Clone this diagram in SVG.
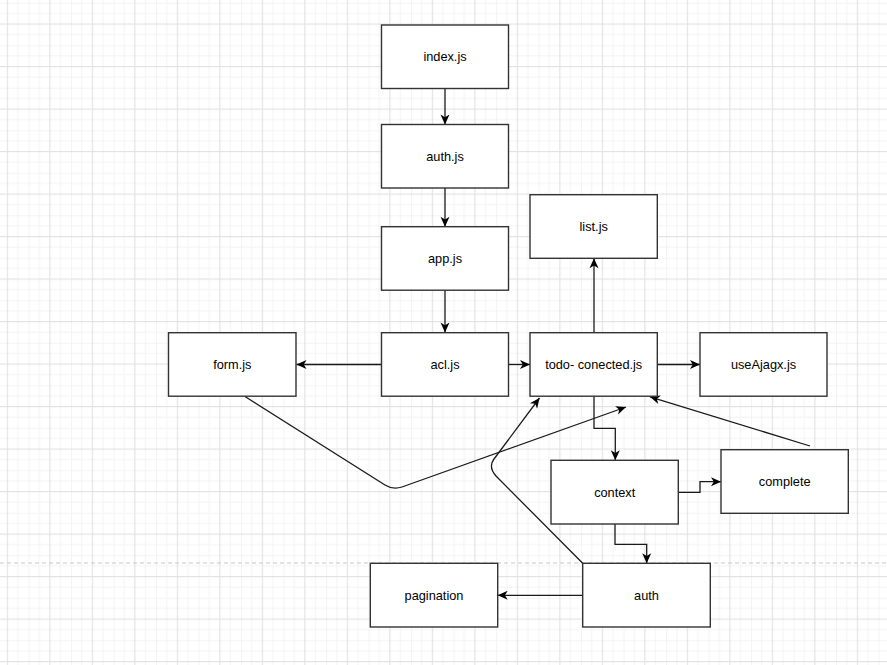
<svg xmlns="http://www.w3.org/2000/svg" width="887" height="665" viewBox="0 0 887 665">
<style>
.box{fill:#ffffff;stroke:#333333;stroke-width:1.4}
.lbl{font-family:"Liberation Sans",Arial,sans-serif;font-size:12.75px;fill:#000000;text-anchor:middle;dominant-baseline:central}
.edge{fill:none;stroke:#1a1a1a;stroke-width:1.3;marker-end:url(#arr)}
</style>
<defs>
<marker id="arr" markerUnits="userSpaceOnUse" markerWidth="12" markerHeight="10" refX="10" refY="4.5" orient="auto" overflow="visible">
<path d="M0,0 L10,4.5 L0,9 L2.8,4.5 Z" fill="#000000"/>
</marker>
<pattern id="grid" patternUnits="userSpaceOnUse" x="-13.95" y="2.75" width="42.5" height="42.5">
<rect x="0" y="0" width="42.5" height="42.5" fill="#ffffff"/>
<rect x="10.2" y="0" width="1" height="42.5" fill="#f4f4f4"/>
<rect x="31.4" y="0" width="1" height="42.5" fill="#f4f4f4"/>
<rect x="0" y="0" width="1" height="42.5" fill="#f4f4f4"/>
<rect x="0" y="10.2" width="42.5" height="1" fill="#f4f4f4"/>
<rect x="0" y="31.4" width="42.5" height="1" fill="#f4f4f4"/>
<rect x="0" y="0" width="42.5" height="1" fill="#f4f4f4"/>
<rect x="20.8" y="0" width="1.1" height="42.5" fill="#e2e2e2"/>
<rect x="0" y="20.8" width="42.5" height="1.1" fill="#e2e2e2"/>
</pattern>
</defs>
<rect x="0" y="0" width="887" height="665" fill="url(#grid)"/>
<line x1="0" y1="563" x2="887" y2="563" stroke="#c8c8c8" stroke-width="1.2" stroke-dasharray="4,3"/>

<g id="connectors">
<path class="edge" d="M445,88.5 L445,124.5"/>
<path class="edge" d="M445,188 L445,226.7"/>
<path class="edge" d="M445,290 L445,332.5"/>
<path class="edge" d="M381.5,364.5 L296.5,364.5"/>
<path class="edge" d="M508.5,364.5 L530,364.5"/>
<path class="edge" d="M657.5,364.5 L700,364.5"/>
<path class="edge" d="M594,332.5 L594,258.3"/>
<path class="edge" d="M594,396.5 L594,428.3 L615.3,428.3 L615.3,460.3"/>
<path class="edge" d="M678.3,492.3 L700,492.3 L700,481.7 L721,481.7"/>
<path class="edge" d="M810,446 L650,396.8"/>
<path class="edge" d="M245,396.5 L385,485 Q393,490 402,487 L626,407"/>
<path class="edge" d="M582.7,563.3 L496,476 Q488,467 494,459 L539.5,398"/>
<path class="edge" d="M615,524 L615,544.3 L646.7,544.3 L646.7,563.3"/>
<path class="edge" d="M582.7,595.3 L497.7,595.3"/>
</g>

<g id="index-js"><rect class="box" x="381.5" y="25" width="127" height="63.5"/><text class="lbl" x="445" y="56.8">index.js</text></g>
<g id="auth-js"><rect class="box" x="381.5" y="124.5" width="127" height="63.5"/><text class="lbl" x="445" y="156.3">auth.js</text></g>
<g id="app-js"><rect class="box" x="381.5" y="226.7" width="127" height="63.5"/><text class="lbl" x="445" y="258.5">app.js</text></g>
<g id="acl-js"><rect class="box" x="381.5" y="332.7" width="127" height="63.5"/><text class="lbl" x="445" y="364.5">acl.js</text></g>
<g id="form-js"><rect class="box" x="168.5" y="332.7" width="127.5" height="63.5"/><text class="lbl" x="232.3" y="364.5">form.js</text></g>
<g id="todo-conected-js"><rect class="box" x="530" y="332.7" width="127.3" height="63.5"/><text class="lbl" x="593.7" y="364.5">todo- conected.js</text></g>
<g id="useAjagx-js"><rect class="box" x="700" y="332.7" width="127" height="63.5"/><text class="lbl" x="763.5" y="364.5">useAjagx.js</text></g>
<g id="list-js"><rect class="box" x="530" y="194.7" width="127.3" height="63.6"/><text class="lbl" x="593.7" y="226.5">list.js</text></g>
<g id="context"><rect class="box" x="551" y="460.3" width="127.3" height="63.7"/><text class="lbl" x="614.7" y="492.2">context</text></g>
<g id="complete"><rect class="box" x="721" y="449.7" width="127.3" height="63.6"/><text class="lbl" x="784.7" y="481.5">complete</text></g>
<g id="auth"><rect class="box" x="582.7" y="563.3" width="127.6" height="63.7"/><text class="lbl" x="646.5" y="595.2">auth</text></g>
<g id="pagination"><rect class="box" x="370.3" y="563.3" width="127.4" height="63.7"/><text class="lbl" x="434" y="595.2">pagination</text></g>
</svg>
